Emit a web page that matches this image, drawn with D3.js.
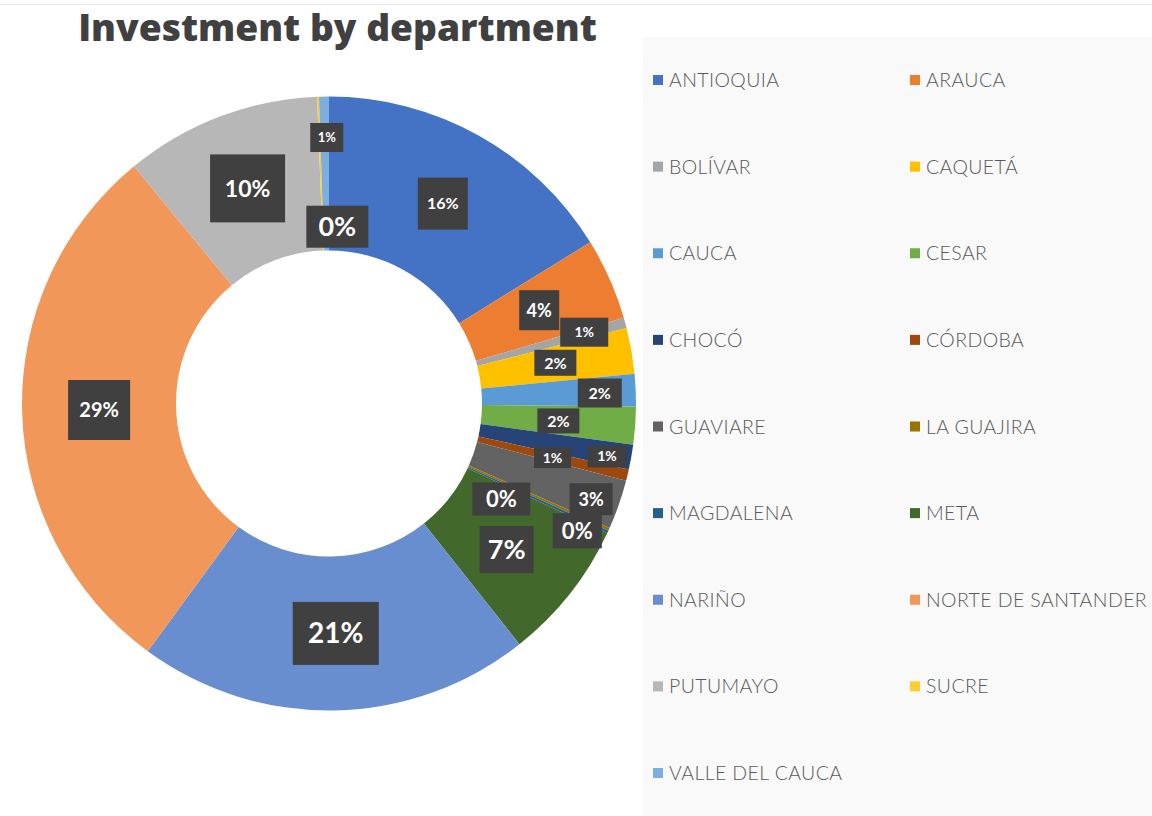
<!DOCTYPE html>
<html>
<head>
<meta charset="utf-8">
<script src="https://cdn.jsdelivr.net/npm/d3@7/dist/d3.min.js"></script>
<style>
  body { margin: 0; background: #fff; }
  svg { display: block; }
</style>
</head>
<body>
<script>
// departments in the order of the source table (also the pie order, clockwise from 12 o'clock)
const departments = ["ANTIOQUIA", "ARAUCA", "BOLÍVAR", "CAQUETÁ", "CAUCA", "CESAR", "CHOCÓ",
  "CÓRDOBA", "GUAVIARE", "LA GUAJIRA", "MAGDALENA", "META", "NARIÑO", "NORTE DE SANTANDER",
  "PUTUMAYO", "SUCRE", "VALLE DEL CAUCA"];

// share of investment, %
const investmentShare = [16.2, 4.3, 0.55, 2.4, 1.7, 2.0, 1.3, 0.6, 2.6, 0.15, 0.15, 7.4, 20.7,
  29.0, 10.33, 0.1, 0.52];

// office palette
const sliceColors = ["#4472C4", "#ED7D31", "#A5A5A5", "#FFC000", "#5B9BD5", "#70AD47", "#264478",
  "#9E480E", "#636363", "#997300", "#255E91", "#43682B", "#698ED0", "#F1975A", "#B7B7B7",
  "#FFCD33", "#7CAFDD"];

// data label look: the boxes were dragged around by hand in the original
const labelFont   = [16, 18, 14, 16, 16, 16, 14, 14, 18, 22, 22, 27, 28, 20, 23, 27, 13];
const labelBoxW   = [50, 40, 48, 42, 44, 42, 39, 37, 43, 58, 49, 54, 86, 62, 75, 62, 33];
const labelBoxH   = [52, 40, 29, 26, 29, 25, 22, 21, 32, 33, 35, 47, 63, 60, 68, 42, 29];
const labelRadius = [230, 230, 265, 230, 271, 230, 283, 230, 279, 197, 279, 230, 230, 230, 230, 177, 266];
const labelTurn   = [0.5, 0, -0.4, -0.3, 0.3, 0.2, 0.7, 0.1, 0.8, 4.8, 2.4, 1.1, -0.6, 0, 0.1, 4.75, 0.45];

const width = 1152, height = 816;
const cx = 329, cy = 403.5;
const outerR = 307, innerR = 153;

const svg = d3.select("body").append("svg")
  .attr("width", width)
  .attr("height", height);

// faint rule at the very top of the screenshot
svg.append("line")
  .attr("x1", 0).attr("x2", width)
  .attr("y1", 4.5).attr("y2", 4.5)
  .attr("stroke", "#e6e6e6");

// legend panel
svg.append("rect")
  .attr("x", 643).attr("y", 37)
  .attr("width", width - 643).attr("height", height - 37)
  .attr("fill", "#f9f9f9");

// title
let title = svg.append("text")
  .attr("x", 337.5)
  .attr("y", 41)
  .attr("text-anchor", "middle")
  .style("font-family", "'Open Sans', sans-serif")
  .style("font-weight", 800)
  .style("font-size", "34px")
  .attr("fill", "#404040")
  .text("Investment by department");
// fit the title to the width it has in the picture
let tw = title.node().getBBox().width;
title.style("font-size", Math.min(37.5, 34 * 519 / tw) + "px");

let rows = departments.map((d, i) => ({
  name: d,
  value: investmentShare[i],
  color: sliceColors[i],
  i: i
}));
let total = d3.sum(rows, (d) => d.value);
let pct = d3.format(".0%");

let pie = d3.pie()
  .sort(null)
  .value((d) => d.value);

let arc = d3.arc()
  .innerRadius(innerR)
  .outerRadius(outerR);

let chart = svg.append("g")
  .attr("transform", "translate(" + cx + "," + cy + ")");

let arcs = pie(rows);

chart.selectAll(".slice")
  .data(arcs)
  .enter()
  .append("path")
    .attr("class", "slice")
    .attr("d", arc)
    .attr("fill", (d) => d.data.color);

// data labels
let labels = chart.selectAll(".lbl")
  .data(arcs)
  .enter()
  .append("g")
    .attr("class", "lbl")
    .attr("transform", (d) => {
      let k = d.data.i;
      let a = (d.startAngle + d.endAngle) / 2 + labelTurn[k] * Math.PI / 180;
      let r = labelRadius[k];
      return "translate(" + (r * Math.sin(a)) + "," + (-r * Math.cos(a)) + ")";
    });

labels.append("rect")
  .attr("x", (d) => -labelBoxW[d.data.i] / 2)
  .attr("y", (d) => -labelBoxH[d.data.i] / 2)
  .attr("width", (d) => labelBoxW[d.data.i])
  .attr("height", (d) => labelBoxH[d.data.i])
  .attr("fill", "#404040");

labels.append("text")
  .attr("text-anchor", "middle")
  .attr("dy", "0.36em")
  .style("font-family", "Lato, 'Open Sans', sans-serif")
  .style("font-weight", 700)
  .style("font-size", (d) => labelFont[d.data.i] + "px")
  .attr("fill", "#ffffff")
  .text((d) => pct(d.data.value / total));

// legend, two columns
let rowY = d3.scaleLinear()
  .domain([0, 8])
  .range([80, 773]);
let colX = d3.scaleOrdinal()
  .domain([0, 1])
  .range([653, 910]);

let legend = svg.selectAll(".legend")
  .data(rows)
  .enter()
  .append("g")
    .attr("class", "legend")
    .attr("transform", (d) => "translate(" + colX(d.i % 2) + "," + rowY(Math.floor(d.i / 2)) + ")");

legend.append("rect")
  .attr("x", 0)
  .attr("y", -5)
  .attr("width", 10)
  .attr("height", 10)
  .attr("fill", (d) => d.color);

legend.append("text")
  .attr("x", 16)
  .attr("dy", "0.36em")
  .style("font-family", "Lato, 'Open Sans', sans-serif")
  .style("font-weight", 300)
  .style("font-size", "19.5px")
  .style("letter-spacing", "0.4px")
  .attr("fill", "#595959")
  .text((d) => d.name);
</script>
</body>
</html>
